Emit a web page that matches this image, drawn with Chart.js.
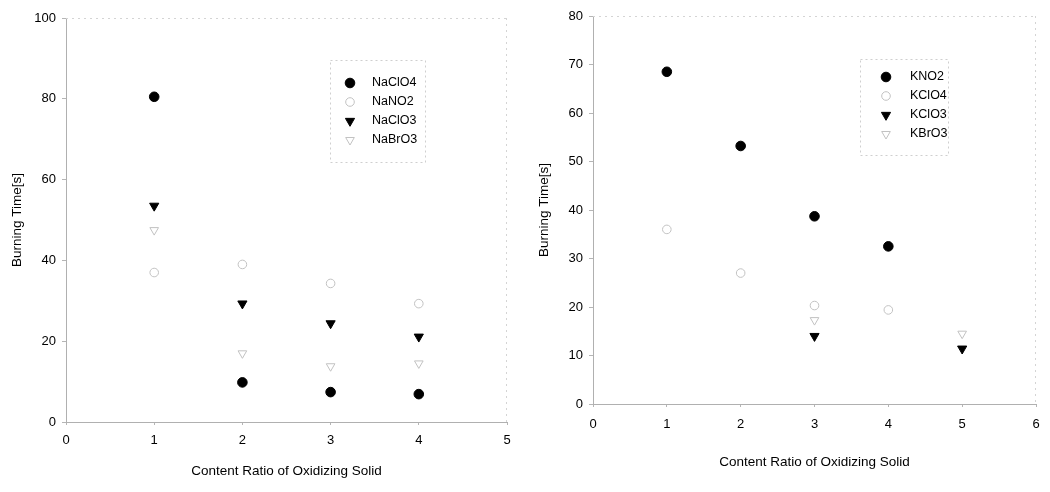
<!DOCTYPE html>
<html>
<head>
<meta charset="utf-8">
<script src="https://cdn.jsdelivr.net/npm/chart.js@4/dist/chart.umd.min.js"></script>
<style>
  body { margin: 0; background: #fff; }
  #leftChart { position: absolute; left: 0; top: 0; }
  #rightChart { position: absolute; left: 530px; top: 0; }
</style>
</head>
<body>
<canvas id="leftChart" width="530" height="492"></canvas>
<canvas id="rightChart" width="520" height="492"></canvas>
<script>
// Data
const xLabelText = 'Content Ratio of Oxidizing Solid';
const yLabelText = 'Burning Time[s]';

// Sodium salts (left chart)
const naX = [1, 2, 3, 4];
const naClO4 = [80.5, 9.8, 7.4, 6.9];
const naNO2 = [37, 39, 34.3, 29.3];
const naClO3 = [53.5, 29.3, 24.4, 21.1];
const naBrO3 = [47.5, 17, 13.8, 14.5];
const leftYTicks = [0, 20, 40, 60, 80, 100];
const leftXTicks = [0, 1, 2, 3, 4, 5];

// Potassium salts (right chart)
const kNO2X = [1, 2, 3, 4];
const kNO2 = [68.5, 53.2, 38.7, 32.5];
const kClO4X = [1, 2, 3, 4];
const kClO4 = [36, 27, 20.3, 19.4];
const kClO3X = [3, 5];
const kClO3 = [14, 11.4];
const kBrO3X = [3, 5];
const kBrO3 = [17.3, 14.5];
const rightYTicks = [0, 10, 20, 30, 40, 50, 60, 70, 80];
const rightXTicks = [0, 1, 2, 3, 4, 5, 6];

const FONT = 'Liberation Sans, Arial, sans-serif';
const faint = '#c2c2c2';

function pts(xs, ys) {
    return xs.map((x, i) => ({ x: x, y: ys[i] }));
}

// marker styles
function filledCircle(label, data) {
    return { label, data, pointStyle: 'circle', pointRadius: 4.8, backgroundColor: '#000', borderColor: '#000', borderWidth: 1, rotation: 0 };
}
function openCircle(label, data) {
    return { label, data, pointStyle: 'circle', pointRadius: 4.3, backgroundColor: 'rgba(0,0,0,0)', borderColor: faint, borderWidth: 1, rotation: 0 };
}
function filledTriangle(label, data) {
    return { label, data, pointStyle: 'triangle', pointRotation: 180, rotation: 180, pointRadius: 5.3, backgroundColor: '#000', borderColor: '#000', borderWidth: 1 };
}
function openTriangle(label, data) {
    return { label, data, pointStyle: 'triangle', pointRotation: 180, rotation: 180, pointRadius: 5, backgroundColor: 'rgba(0,0,0,0)', borderColor: faint, borderWidth: 1 };
}

// faint dotted frame round the plot area
const framePlugin = {
    id: 'frame',
    beforeDatasetsDraw(chart) {
        const { left, right, top, bottom } = chart.chartArea;
        const ctx = chart.ctx;
        ctx.save();
        ctx.lineWidth = 1;
        ctx.setLineDash([2, 4]);
        ctx.strokeStyle = '#d4d4d4';
        ctx.beginPath();
        ctx.moveTo(left, top + 0.5);
        ctx.lineTo(right, top + 0.5);
        ctx.moveTo(right - 0.5, top);
        ctx.lineTo(right - 0.5, bottom);
        ctx.stroke();
        ctx.restore();
    }
};

// legend drawn inside the plot, in a dotted box
const boxLegendPlugin = {
    id: 'boxLegend',
    afterDraw(chart, args, opts) {
        const ctx = chart.ctx;
        ctx.save();
        ctx.lineWidth = 1;
        ctx.setLineDash([2, 3]);
        ctx.strokeStyle = '#cfcfcf';
        ctx.strokeRect(opts.x + 0.5, opts.y + 0.5, opts.w, opts.h);
        ctx.setLineDash([]);
        chart.data.datasets.forEach((ds, i) => {
            const y = opts.row0 + i * opts.rowGap;
            ctx.fillStyle = ds.backgroundColor;
            ctx.strokeStyle = ds.borderColor;
            ctx.lineWidth = ds.borderWidth;
            Chart.helpers.drawPoint(ctx, {
                pointStyle: ds.pointStyle,
                rotation: ds.rotation,
                radius: ds.pointRadius,
                borderWidth: ds.borderWidth
            }, opts.markX, y);
            ctx.fillStyle = '#000';
            ctx.font = '12.5px ' + FONT;
            ctx.textBaseline = 'middle';
            ctx.textAlign = 'left';
            ctx.fillText(ds.label, opts.textX, y);
        });
        ctx.restore();
    }
};

function makeScales(xTicks, yTicks, xFit, yFit, xTitlePad, yTitlePad, xTickPad) {
    return {
        x: {
            type: 'linear',
            min: xTicks[0],
            max: xTicks[xTicks.length - 1],
            afterBuildTicks: (scale) => { scale.ticks = xTicks.map(v => ({ value: v })); },
            afterFit: (scale) => { scale.height = xFit; },
            ticks: { color: '#000', font: { family: FONT, size: 13 }, padding: xTickPad, maxRotation: 0 },
            grid: { drawOnChartArea: false, drawTicks: true, tickLength: 3, color: '#b5b5b5' },
            border: { display: true, color: '#b0b0b0', dash: [3, 3] },
            title: { display: true, text: xLabelText, color: '#000', font: { family: FONT, size: 13.5 }, padding: { top: 0, bottom: xTitlePad } }
        },
        y: {
            type: 'linear',
            min: yTicks[0],
            max: yTicks[yTicks.length - 1],
            afterBuildTicks: (scale) => { scale.ticks = yTicks.map(v => ({ value: v })); },
            afterFit: (scale) => { scale.width = yFit; },
            ticks: { color: '#000', font: { family: FONT, size: 13 }, padding: 6 },
            grid: { drawOnChartArea: false, drawTicks: true, tickLength: 4, color: '#b5b5b5' },
            border: { display: true, color: '#b0b0b0', dash: [3, 3] },
            title: { display: true, text: yLabelText, color: '#000', font: { family: FONT, size: 13.5 }, padding: { top: yTitlePad, bottom: 0 } }
        }
    };
}

// Left chart: sodium salts
new Chart(document.getElementById('leftChart').getContext('2d'), {
    type: 'scatter',
    data: {
        datasets: [
            filledCircle('NaClO4', pts(naX, naClO4)),
            openCircle('NaNO2', pts(naX, naNO2)),
            filledTriangle('NaClO3', pts(naX, naClO3)),
            openTriangle('NaBrO3', pts(naX, naBrO3)),
        ],
    },
    options: {
        responsive: false,
        animation: false,
        layout: { padding: { left: 0, right: 23, top: 18, bottom: 0 } },
        scales: makeScales(leftXTicks, leftYTicks, 70, 66, 13, 9, 8),
        plugins: {
            legend: { display: false },
            tooltip: { enabled: false },
            boxLegend: { x: 330, y: 60, w: 95, h: 102, row0: 83, rowGap: 19, markX: 350, textX: 372 }
        }
    },
    plugins: [framePlugin, boxLegendPlugin]
});

// Right chart: potassium salts
new Chart(document.getElementById('rightChart').getContext('2d'), {
    type: 'scatter',
    data: {
        datasets: [
            filledCircle('KNO2', pts(kNO2X, kNO2)),
            openCircle('KClO4', pts(kClO4X, kClO4)),
            filledTriangle('KClO3', pts(kClO3X, kClO3)),
            openTriangle('KBrO3', pts(kBrO3X, kBrO3)),
        ],
    },
    options: {
        responsive: false,
        animation: false,
        layout: { padding: { left: 0, right: 14, top: 16, bottom: 0 } },
        scales: makeScales(rightXTicks, rightYTicks, 88, 63, 22, 6, 10),
        plugins: {
            legend: { display: false },
            tooltip: { enabled: false },
            boxLegend: { x: 330, y: 59, w: 88, h: 96, row0: 77, rowGap: 19, markX: 356, textX: 380 }
        }
    },
    plugins: [framePlugin, boxLegendPlugin]
});
</script>
</body>
</html>
